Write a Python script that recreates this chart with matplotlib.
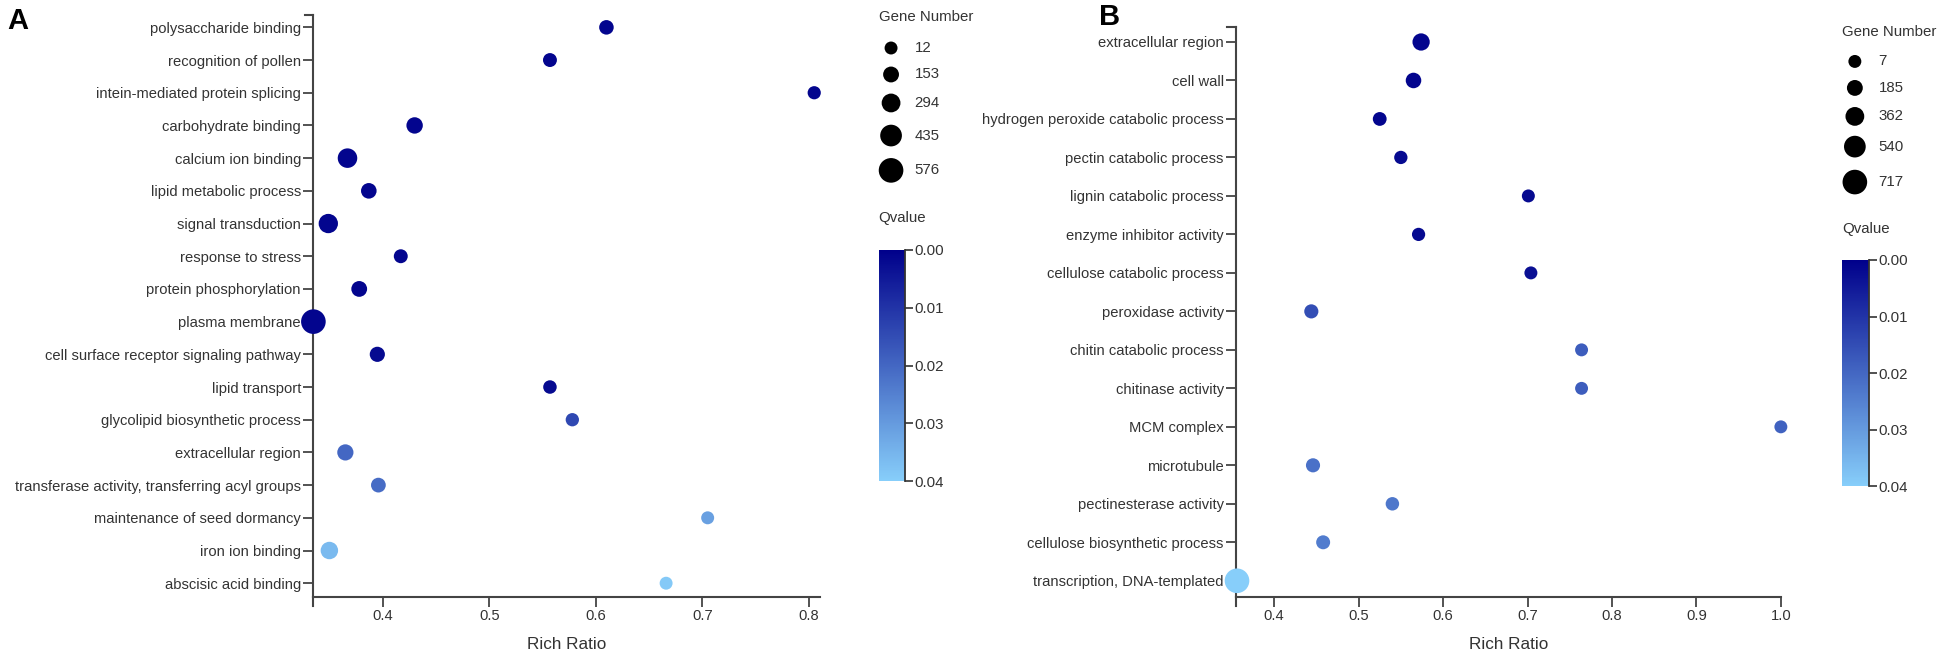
import matplotlib
matplotlib.use("Agg")
import matplotlib.pyplot as plt
from matplotlib.colors import LinearSegmentedColormap, Normalize
from matplotlib.lines import Line2D

plt.rcParams['font.family'] = ['Liberation Sans', 'DejaVu Sans']

# ---- panel A data ----
terms_a = ["polysaccharide binding", "recognition of pollen", "intein-mediated protein splicing",
           "carbohydrate binding", "calcium ion binding", "lipid metabolic process",
           "signal transduction", "response to stress", "protein phosphorylation",
           "plasma membrane", "cell surface receptor signaling pathway", "lipid transport",
           "glycolipid biosynthetic process", "extracellular region",
           "transferase activity, transferring acyl groups", "maintenance of seed dormancy",
           "iron ion binding", "abscisic acid binding"]
ratio_a = [0.610, 0.557, 0.805, 0.430, 0.367, 0.387, 0.349, 0.417, 0.378,
           0.335, 0.395, 0.557, 0.578, 0.365, 0.396, 0.705, 0.350, 0.666]
genes_a = [90, 60, 25, 180, 330, 140, 320, 60, 150,
           576, 120, 40, 30, 170, 100, 14, 230, 12]
qval_a = [0.001, 0.001, 0.001, 0.001, 0.001, 0.001, 0.001, 0.001, 0.001,
          0.001, 0.002, 0.002, 0.014, 0.020, 0.021, 0.031, 0.036, 0.039]
legend_a = [12, 153, 294, 435, 576]

# ---- panel B data ----
terms_b = ["extracellular region", "cell wall", "hydrogen peroxide catabolic process",
           "pectin catabolic process", "lignin catabolic process", "enzyme inhibitor activity",
           "cellulose catabolic process", "peroxidase activity", "chitin catabolic process",
           "chitinase activity", "MCM complex", "microtubule", "pectinesterase activity",
           "cellulose biosynthetic process", "transcription, DNA-templated"]
ratio_b = [0.574, 0.565, 0.525, 0.550, 0.701, 0.571, 0.704, 0.444, 0.764,
           0.764, 1.000, 0.446, 0.540, 0.458, 0.356]
genes_b = [270, 165, 60, 30, 10, 25, 10, 80, 8, 7, 7, 80, 40, 70, 717]
qval_b = [0.001, 0.001, 0.001, 0.002, 0.002, 0.002, 0.003, 0.015, 0.018,
          0.018, 0.019, 0.022, 0.023, 0.024, 0.040]
legend_b = [7, 185, 362, 540, 717]

W, H = 1950, 666
S = W / 1568  # layout below measured on a 1568 px wide view
cmap = LinearSegmentedColormap.from_list("qv", ["#00008B", "#87CEFA"])
norm = Normalize(0, 0.04)
txt = "#333333"
axc = "#444444"


def size_fn(nmin, nmax):
    # radius in px, linear in gene number, converted to points^2
    def f(n):
        r = (5.2 + (n - nmin) / (nmax - nmin) * 4.7) * S
        return (2 * r * 0.72) ** 2
    return f


def box(x0, y0, x1, y1):
    x0, y0, x1, y1 = x0 * S, y0 * S, x1 * S, y1 * S
    return [x0 / W, 1 - y1 / H, (x1 - x0) / W, (y1 - y0) / H]


fig = plt.figure(figsize=(W / 100, H / 100), dpi=100)
over = fig.add_axes([0, 0, 1, 1])
over.set_xlim(0, W / S)
over.set_ylim(H / S, 0)
over.axis("off")


def panel(rect, terms, ratio, genes, qval, xlim, xticks, sizes):
    ax = fig.add_axes(rect)
    n = len(terms)
    ys = list(range(n))
    sc = ax.scatter(ratio, ys, s=[sizes(g) for g in genes], c=qval, cmap=cmap, norm=norm,
                    linewidths=0, clip_on=False, zorder=3)
    ax.set_xlim(*xlim)
    ax.set_ylim(n - 1 + 0.42, -0.38)
    ax.set_yticks(ys)
    ax.set_yticklabels(terms)
    ax.set_xticks(xticks)
    ax.set_xticklabels([f"{t:.1f}" for t in xticks])
    for s in ("top", "right"):
        ax.spines[s].set_visible(False)
    for s in ("left", "bottom"):
        ax.spines[s].set_color(axc)
        ax.spines[s].set_linewidth(1.5)
    ax.tick_params(length=7, width=1.3, color=axc, labelsize=10.6,
                   labelcolor=txt, pad=2)
    ax.set_xlabel("Rich Ratio", fontsize=12.3, color=txt, labelpad=10)
    # d3-style outer ticks at the ends of the domain lines
    ax.add_line(Line2D([-0.017, 0], [1, 1], transform=ax.transAxes, color=axc,
                       lw=1.5, clip_on=False))
    ax.add_line(Line2D([0, 0], [0, -0.016], transform=ax.transAxes, color=axc,
                       lw=1.5, clip_on=False))
    return ax, sc


ax_a, sc_a = panel(box(252, 12, 659, 480), terms_a, ratio_a, genes_a, qval_a,
                   (0.335, 0.81), [0.4, 0.5, 0.6, 0.7, 0.8],
                   size_fn(min(legend_a), max(legend_a)))
ax_b, sc_b = panel(box(994, 22, 1432, 480), terms_b, ratio_b, genes_b, qval_b,
                   (0.355, 1.0), [0.4, 0.5, 0.6, 0.7, 0.8, 0.9, 1.0],
                   size_fn(min(legend_b), max(legend_b)))

over.text(6, 17, "A", fontsize=21, fontweight="bold", va="center", ha="left")
over.text(884, 14, "B", fontsize=21, fontweight="bold", va="center", ha="left")


def legend(x0, title_y, rows, values, sizes, q_y, cb_top, cb_bot, sc):
    over.text(x0, title_y, "Gene Number", fontsize=10.8, color=txt, va="center", ha="left")
    over.scatter([x0 + 10] * len(values), rows, s=[sizes(v) for v in values],
                 color="black", linewidths=0)
    for y, v in zip(rows, values):
        over.text(x0 + 29, y, str(v), fontsize=10.8, color=txt, va="center", ha="left")
    over.text(x0, q_y, "Qvalue", fontsize=10.8, color=txt, va="center", ha="left")
    cax = fig.add_axes(box(x0, cb_top, x0 + 21, cb_bot))
    cb = fig.colorbar(sc, cax=cax, ticks=[0, 0.01, 0.02, 0.03, 0.04])
    cb.outline.set_visible(False)
    cax.invert_yaxis()
    cax.spines["right"].set_visible(True)
    cax.spines["right"].set_color(txt)
    cax.spines["right"].set_linewidth(1.3)
    cax.set_yticklabels(["0.00", "0.01", "0.02", "0.03", "0.04"])
    cax.tick_params(length=6, width=1.2, color=txt, labelsize=10.8,
                    labelcolor=txt, pad=1)


legend(706.5, 13.5, [38.6, 59.9, 82.8, 109, 137], legend_a,
       size_fn(min(legend_a), max(legend_a)), 175, 201, 387, sc_a)
legend(1481.5, 25.6, [49.4, 70.7, 93.6, 117.9, 146.4], legend_b,
       size_fn(min(legend_b), max(legend_b)), 184, 209, 391, sc_b)

fig.savefig("out.png", dpi=100)
